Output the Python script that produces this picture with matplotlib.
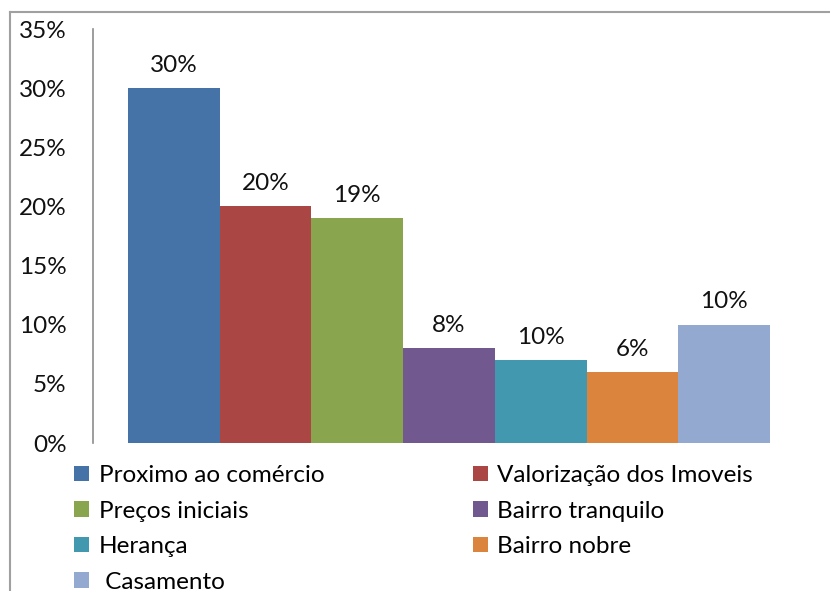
import matplotlib
matplotlib.use('Agg')
import matplotlib.pyplot as plt
from matplotlib.patches import Patch
from matplotlib.lines import Line2D

plt.rcParams['font.family'] = ['Lato', 'DejaVu Sans']

# Data
categories = ['Proximo ao comércio', 'Valorização dos Imoveis', 'Preços iniciais',
              'Bairro tranquilo', 'Herança', 'Bairro nobre', ' Casamento']
values = [30, 20, 19, 8, 7, 6, 10]
bar_labels = ['30%', '20%', '19%', '8%', '10%', '6%', '10%']
colors = ['#4572A7', '#AA4643', '#89A54E', '#71588F', '#4198AF', '#DB843D', '#93A9CF']
yticks = [0, 5, 10, 15, 20, 25, 30, 35]

FS = 17.5
W, H = 830, 591
fig = plt.figure(figsize=(W / 100, H / 100), dpi=100)
ax = fig.add_axes([93 / W, 1 - 443 / H, (805 - 93) / W, (443 - 29) / H])

x = range(len(values))
ax.bar(x, values, width=1.0, color=colors)

for i, (v, lab) in enumerate(zip(values, bar_labels)):
    ax.annotate(lab, (i, v), xytext=(0, 9), textcoords='offset points',
                ha='center', va='bottom', fontsize=FS, color='#111111')

ax.set_ylim(0, 35)
ax.set_xlim(-0.5 - 0.38, len(values) - 0.5 + 0.38)
ax.set_yticks(yticks)
ax.set_yticklabels([f'{t}%' for t in yticks])
ax.set_xticks([])
ax.tick_params(axis='y', length=0, pad=19, labelsize=FS, labelcolor='#111111')
for s in ['top', 'right', 'bottom']:
    ax.spines[s].set_visible(False)
ax.spines['left'].set_color('#8c8c8c')
ax.spines['left'].set_linewidth(1.2)

# Legend: matplotlib fills columns first, so order handles by column
order = [0, 2, 4, 6, 1, 3, 5]
handles = [Patch(facecolor=colors[i], edgecolor='none') for i in order]
labels = [categories[i] for i in order]
fig.legend(handles, labels, ncol=2, frameon=False, fontsize=FS,
           loc='upper left', bbox_to_anchor=(74 / W, 1 - 465 / H),
           handlelength=0.62, handleheight=0.62, handletextpad=0.4,
           labelspacing=0.6, columnspacing=6.1, borderaxespad=0,
           borderpad=0)

# outer chart border (clipped at right and bottom)
fig.add_artist(Line2D([10 / W, 1], [1 - 12 / H, 1 - 12 / H], color='#a0a0a0', lw=1.5,
                      transform=fig.transFigure))
fig.add_artist(Line2D([10 / W, 10 / W], [0, 1 - 12 / H], color='#a0a0a0', lw=1.5,
                      transform=fig.transFigure))

fig.savefig('out.png', dpi=100)
